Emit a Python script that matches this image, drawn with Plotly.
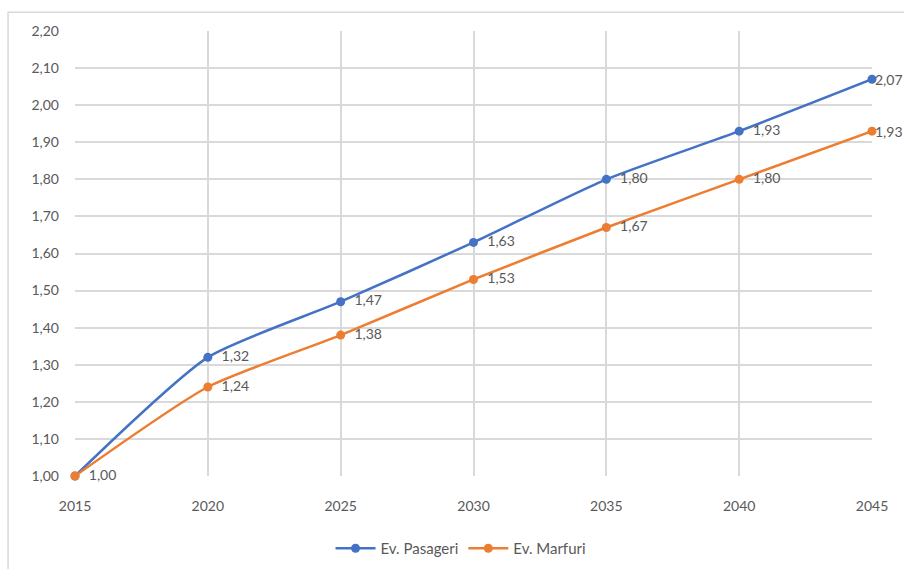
import plotly.graph_objects as go

years = [2015, 2020, 2025, 2030, 2035, 2040, 2045]
pasageri = [1.00, 1.32, 1.47, 1.63, 1.80, 1.93, 2.07]
marfuri = [1.00, 1.24, 1.38, 1.53, 1.67, 1.80, 1.93]
labels_p = ["", "1,32", "1,47", "1,63", "1,80", "1,93", "2,07"]
labels_m = ["1,00", "1,24", "1,38", "1,53", "1,67", "1,80", "1,93"]

gray = "#595959"
font_fam = "Lato"


def pad(labels):
    # the last label is drawn as an annotation hugging the marker
    return ["  " + t for t in labels[:-1]] + [""]


fig = go.Figure()
fig.add_trace(go.Scatter(
    x=years, y=pasageri, name="Ev. Pasageri", mode="lines+markers+text",
    line=dict(color="#4472C4", width=2.5, shape="spline", smoothing=0.6),
    marker=dict(size=9, color="#4472C4"),
    text=pad(labels_p), textposition="middle right",
    textfont=dict(family=font_fam, size=14, color=gray), cliponaxis=False))
fig.add_trace(go.Scatter(
    x=years, y=marfuri, name="Ev. Marfuri", mode="lines+markers+text",
    line=dict(color="#ED7D31", width=2.5, shape="spline", smoothing=0.6),
    marker=dict(size=9, color="#ED7D31"),
    text=pad(labels_m), textposition="middle right",
    textfont=dict(family=font_fam, size=14, color=gray), cliponaxis=False))

for yv, lab in ((pasageri[-1], labels_p[-1]), (marfuri[-1], labels_m[-1])):
    fig.add_annotation(x=years[-1], y=yv, text=lab, showarrow=False,
                       xanchor="left", yanchor="middle", xshift=1,
                       font=dict(family=font_fam, size=14, color=gray))

fig.update_layout(
    width=904, height=569,
    margin=dict(l=75, r=32, t=31, b=93, autoexpand=False),
    paper_bgcolor="white", plot_bgcolor="white",
    separators=", ",
    font=dict(family=font_fam, size=14, color=gray),
    showlegend=True,
    legend=dict(orientation="h", x=0.51, xanchor="center", xref="container",
                y=0.036, yanchor="middle", yref="container",
                font=dict(size=15, color=gray), itemwidth=40),
    xaxis=dict(range=[2015, 2045], tickvals=years, showgrid=True, gridcolor="#d9d9d9",
               gridwidth=1.5, zeroline=False, showline=False, ticks="",
               tickfont=dict(size=14, color=gray), ticklabelstandoff=20),
    yaxis=dict(range=[1.0, 2.2], dtick=0.1, tickformat=".2f", showgrid=True,
               gridcolor="#d9d9d9", gridwidth=1.5, zeroline=False, showline=False,
               ticks="", tickfont=dict(size=14, color=gray), ticklabelstandoff=15),
    shapes=[dict(type="rect", xref="paper", yref="paper",
                 x0=-0.084, x1=1.06, y0=-0.25, y1=1.042,
                 line=dict(color="#d9d9d9", width=1.5))],
)

fig.write_html("out.html")
